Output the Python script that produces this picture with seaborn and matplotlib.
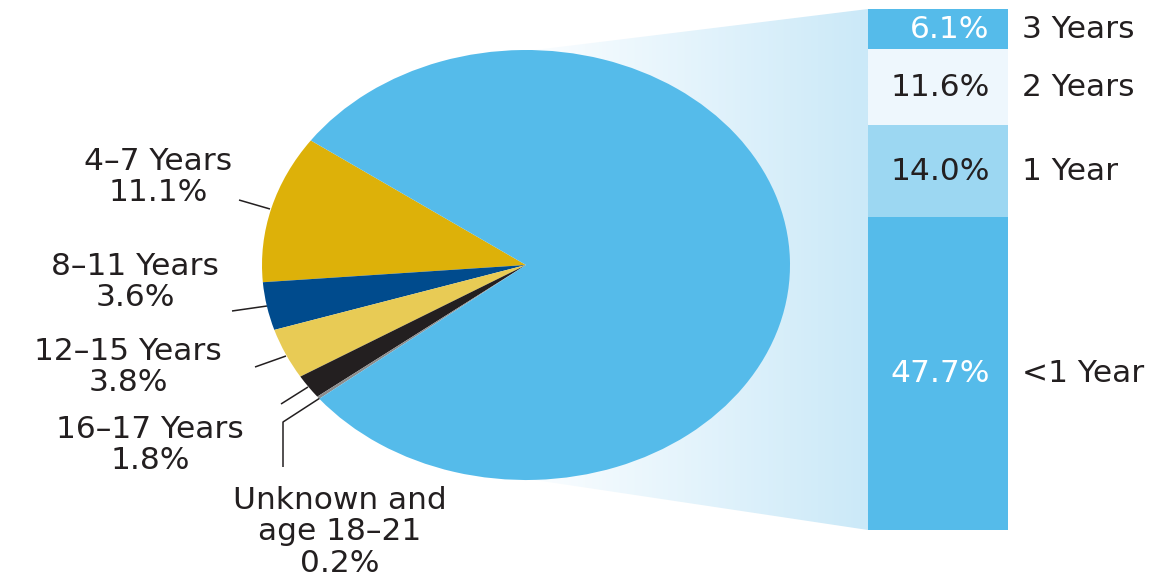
import numpy as np
import pandas as pd
import matplotlib.pyplot as plt
import seaborn as sns
from matplotlib.patches import Polygon
from matplotlib.colors import to_rgb

# Pie data (counter-clockwise from the top-left edge)
pie_labels = ['4–7 Years\n11.1%', '8–11 Years\n3.6%', '12–15 Years\n3.8%',
              '16–17 Years\n1.8%', 'Unknown and\nage 18–21\n0.2%', '<1–3 Years\n79.4%']
pie_values = [11.1, 3.6, 3.8, 1.8, 0.2, 79.4]
pie_colors = ['#DDB109', '#004B8D', '#E8CB55', '#231F20', '#8C8C8C', '#55BBEA']

# Breakdown of the <1–3 Years slice (bottom to top)
bar_labels = ['<1 Year', '1 Year', '2 Years', '3 Years']
bar_values = [47.7, 14.0, 11.6, 6.1]
bar_colors = ['#55BBEA', '#9CD7F2', '#EEF7FD', '#55BBEA']
bar_text_colors = ['white', '#231F20', '#231F20', 'white']

W, H = 1167, 581
TXT = '#231F20'

sns.set_theme(style='white')
plt.rcParams['font.family'] = ['DejaVu Sans']

fig = plt.figure(figsize=(W / 100, H / 100), dpi=100)

# background axes in pixel units for the connector and annotations
bg = fig.add_axes([0, 0, 1, 1])
bg.set_axis_off()

conn = Polygon([(535, 50), (868, 9), (868, 530), (535, 480)], closed=True,
               facecolor='none', edgecolor='none')
bg.add_patch(conn)
c0, c1 = np.array(to_rgb('#FAFDFF')), np.array(to_rgb('#CBE9F8'))
t = np.linspace(0, 1, 256)[None, :, None]
grad = c0 + (c1 - c0) * t
im = bg.imshow(grad, extent=(535, 868, 535, 5), aspect='auto', interpolation='bilinear')
im.set_clip_path(conn)
bg.set_xlim(0, W)
bg.set_ylim(H, 0)

# pie (elliptical: axes box is wider than tall, aspect auto)
pax = fig.add_axes([262 / W, (H - 480) / H, (790 - 262) / W, (480 - 50) / H])
pax.pie(pie_values, colors=pie_colors, startangle=144.6, counterclock=True,
        radius=1, frame=True, wedgeprops=dict(linewidth=0))
pax.set_aspect('auto')
pax.set_xlim(-1, 1)
pax.set_ylim(-1, 1)
pax.set_axis_off()

fs = 22.5
ls = 1.1
# outside labels
bg.text(158, 177, pie_labels[0], ha='center', va='center', fontsize=fs, color=TXT, linespacing=ls)
bg.text(135, 282, pie_labels[1], ha='center', va='center', fontsize=fs, color=TXT, linespacing=ls)
bg.text(128, 367, pie_labels[2], ha='center', va='center', fontsize=fs, color=TXT, linespacing=ls)
bg.text(150, 445, pie_labels[3], ha='center', va='center', fontsize=fs, color=TXT, linespacing=ls)
bg.text(340, 532, pie_labels[4], ha='center', va='center', fontsize=fs, color=TXT, linespacing=ls)
bg.text(650, 257, pie_labels[5], ha='center', va='center', fontsize=fs, color='white', linespacing=ls)

# leader lines
leaders = [
    ([239, 270], [200, 209]),
    ([232, 267], [311, 306]),
    ([255, 286], [367, 356]),
    ([281, 308], [404, 387]),
    ([320, 283, 283], [398, 422, 467]),
]
for xs, ys in leaders:
    bg.plot(xs, ys, color=TXT, lw=1.1, solid_capstyle='butt')

# stacked bar with seaborn (cumulative bars drawn tallest first)
bax = fig.add_axes([868 / W, (H - 530) / H, (1008 - 868) / W, (530 - 9) / H])
cum = np.cumsum(bar_values)
for i in range(len(bar_values) - 1, -1, -1):
    df = pd.DataFrame({'cat': ['b'], 'val': [cum[i]]})
    sns.barplot(data=df, x='cat', y='val', color=bar_colors[i], saturation=1,
                width=1, errorbar=None, linewidth=0, ax=bax)
bax.set_xlim(-0.5, 0.5)
bax.set_ylim(0, cum[-1])
bax.set_axis_off()

starts = cum - np.array(bar_values)
for lab, v, s, tc in zip(bar_labels, bar_values, starts, bar_text_colors):
    y = s + v / 2
    bax.text(0.87, y, f'{v:.1f}%', transform=bax.get_yaxis_transform(),
             ha='right', va='center', fontsize=fs, color=tc)
    bax.text(1.1, y, lab, transform=bax.get_yaxis_transform(),
             ha='left', va='center', fontsize=fs, color=TXT, clip_on=False)

fig.savefig('out.png', dpi=100)
